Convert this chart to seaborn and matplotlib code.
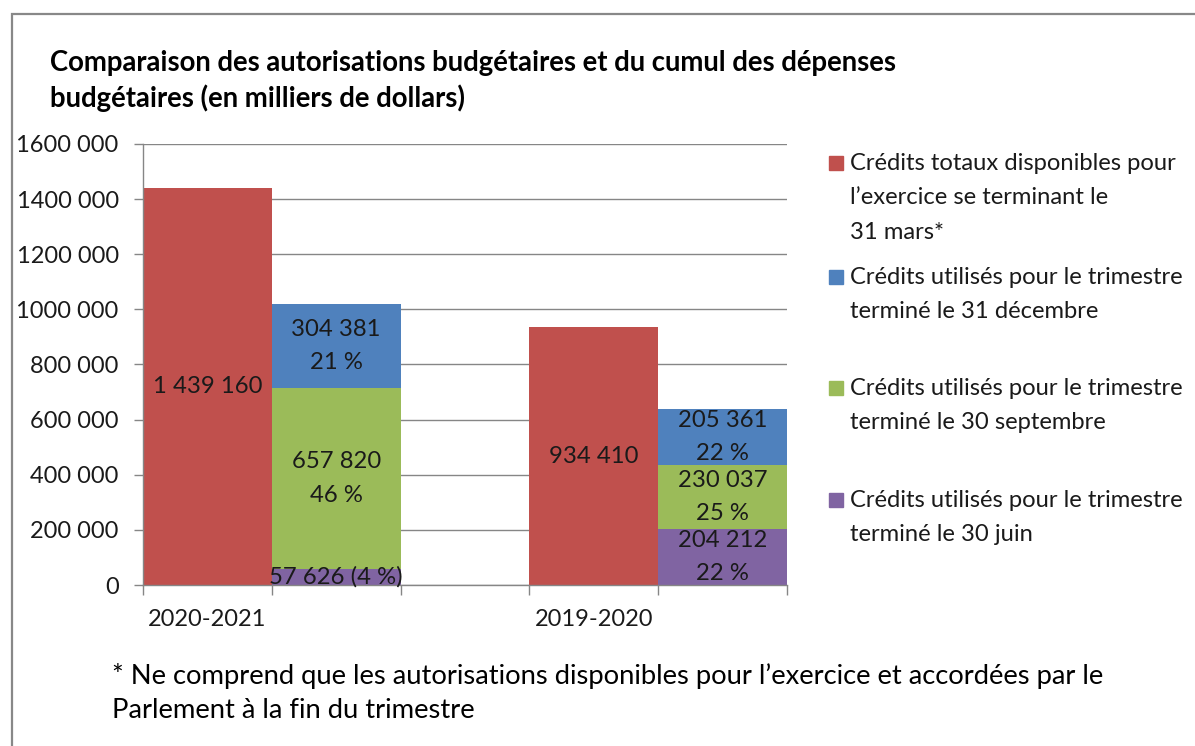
import numpy as np
import pandas as pd
import seaborn as sns
import matplotlib.pyplot as plt
from matplotlib.patches import Rectangle

# values (thousands of dollars)
years = ["2020-2021", "2019-2020"]
total_credits = [1439160, 934410]
used_june = [57626, 204212]
used_sept = [657820, 230037]
used_dec = [304381, 205361]
y_ticks = [0, 200000, 400000, 600000, 800000, 1000000, 1200000, 1400000, 1600000]

legend_labels = [
    "Crédits totaux disponibles pour\nl’exercice se terminant le\n31 mars*",
    "Crédits utilisés pour le trimestre\nterminé le 31 décembre",
    "Crédits utilisés pour le trimestre\nterminé le 30 septembre",
    "Crédits utilisés pour le trimestre\nterminé le 30 juin",
]
title = "Comparaison des autorisations budgétaires et du cumul des dépenses\nbudgétaires (en milliers de dollars)"
footnote = ("* Ne comprend que les autorisations disponibles pour l’exercice et accordées par le\n"
            "Parlement à la fin du trimestre")

red, blue, green, purple = "#C0504D", "#4F81BD", "#9BBB59", "#8064A2"

sns.set_style("white")
plt.rcParams["font.family"] = ["Lato", "DejaVu Sans"]

# Excel-style layout: 5 slots, red bar / stacked bar / empty / red bar / stacked bar
slots = ["r0", "s0", "gap", "r1", "s1"]
red_df = pd.DataFrame({"slot": ["r0", "r1"], "value": total_credits})
june = np.array(used_june)
sept = np.array(used_sept)
dec = np.array(used_dec)
stack_df = pd.DataFrame({
    "slot": ["s0", "s1"],
    "june": june,
    "sept": june + sept,
    "dec": june + sept + dec,
})

fig = plt.figure(figsize=(11.95, 7.46), dpi=100)
ax = fig.add_axes([0.1197, 0.2158, 0.5389, 0.5912])

common = dict(order=slots, width=1, saturation=1, errorbar=None, linewidth=0, ax=ax)
sns.barplot(data=red_df, x="slot", y="value", color=red, **common)
sns.barplot(data=stack_df, x="slot", y="dec", color=blue, **common)
sns.barplot(data=stack_df, x="slot", y="sept", color=green, **common)
sns.barplot(data=stack_df, x="slot", y="june", color=purple, **common)


def fr(v):
    return f"{v:,}".replace(",", " ")


lab = dict(ha="center", va="center", fontsize=17.2, color="#1a1a1a", linespacing=1.72)
for i in range(2):
    rx, sx = slots.index("r%d" % i), slots.index("s%d" % i)
    tot = total_credits[i]
    ax.text(rx, tot / 2, fr(tot), **lab)
    base = 0
    for part in [used_june[i], used_sept[i], used_dec[i]]:
        pct = round(100 * part / tot)
        if part < 100000:
            txt = f"{fr(part)} ({pct} %)"
        else:
            txt = f"{fr(part)}\n{pct} %"
        ax.text(sx, base + part / 2, txt, **lab)
        base += part

ax.set_ylim(0, 1600000)
ax.set_xlim(-0.5, 4.5)
ax.set_yticks(y_ticks)
ax.set_yticklabels([f"{v // 1000} {v % 1000:03d}" if v else "0" for v in y_ticks])
ax.set_xticks(np.arange(-0.5, 5, 1))
ax.set_xticklabels([""] * 6)
ax.set_xticks([slots.index("r0"), slots.index("r1")], years, minor=True)
ax.tick_params(axis="y", length=6.5, width=1, color="#868686", pad=11, labelsize=17,
               labelcolor="#1a1a1a", left=True)
ax.tick_params(axis="x", which="major", length=7, width=1, color="#868686", bottom=True)
ax.tick_params(axis="x", which="minor", length=0, pad=17, labelsize=17, labelcolor="#1a1a1a")
ax.set_xlabel("")
ax.set_ylabel("")
ax.yaxis.grid(True, color="#868686", linewidth=1)
ax.set_axisbelow(True)
for s in ["top", "right"]:
    ax.spines[s].set_visible(False)
for s in ["left", "bottom"]:
    ax.spines[s].set_color("#868686")
    ax.spines[s].set_linewidth(1)

W, H = 1195, 746


def fx(px):
    return px / W


def fy(py):
    return 1 - py / H


fig.text(fx(50), fy(81), title, fontsize=19.8, fontweight="bold", va="center", ha="left",
         linespacing=1.38, color="#000000")

# legend placed by hand like the Excel one
leg_y = [163, 277, 388, 500]
for lbl, col, py in zip(legend_labels, [red, blue, green, purple], leg_y):
    fig.patches.append(Rectangle((fx(829), fy(py + 7)), 14 / W, 14 / H, color=col,
                                 transform=fig.transFigure))
    fig.text(fx(850), fy(py - 10), lbl, fontsize=17.1, va="top", ha="left",
             linespacing=1.78, color="#1a1a1a")

fig.text(fx(112), fy(693), footnote, fontsize=19.7, va="center", ha="left",
         linespacing=1.48, color="#000000")

fig.patches.append(Rectangle((fx(12), -0.1), 1.2, fy(14) + 0.1, fill=False,
                             edgecolor="#888888", linewidth=1.6, transform=fig.transFigure))

fig.savefig("out.png", dpi=100)
